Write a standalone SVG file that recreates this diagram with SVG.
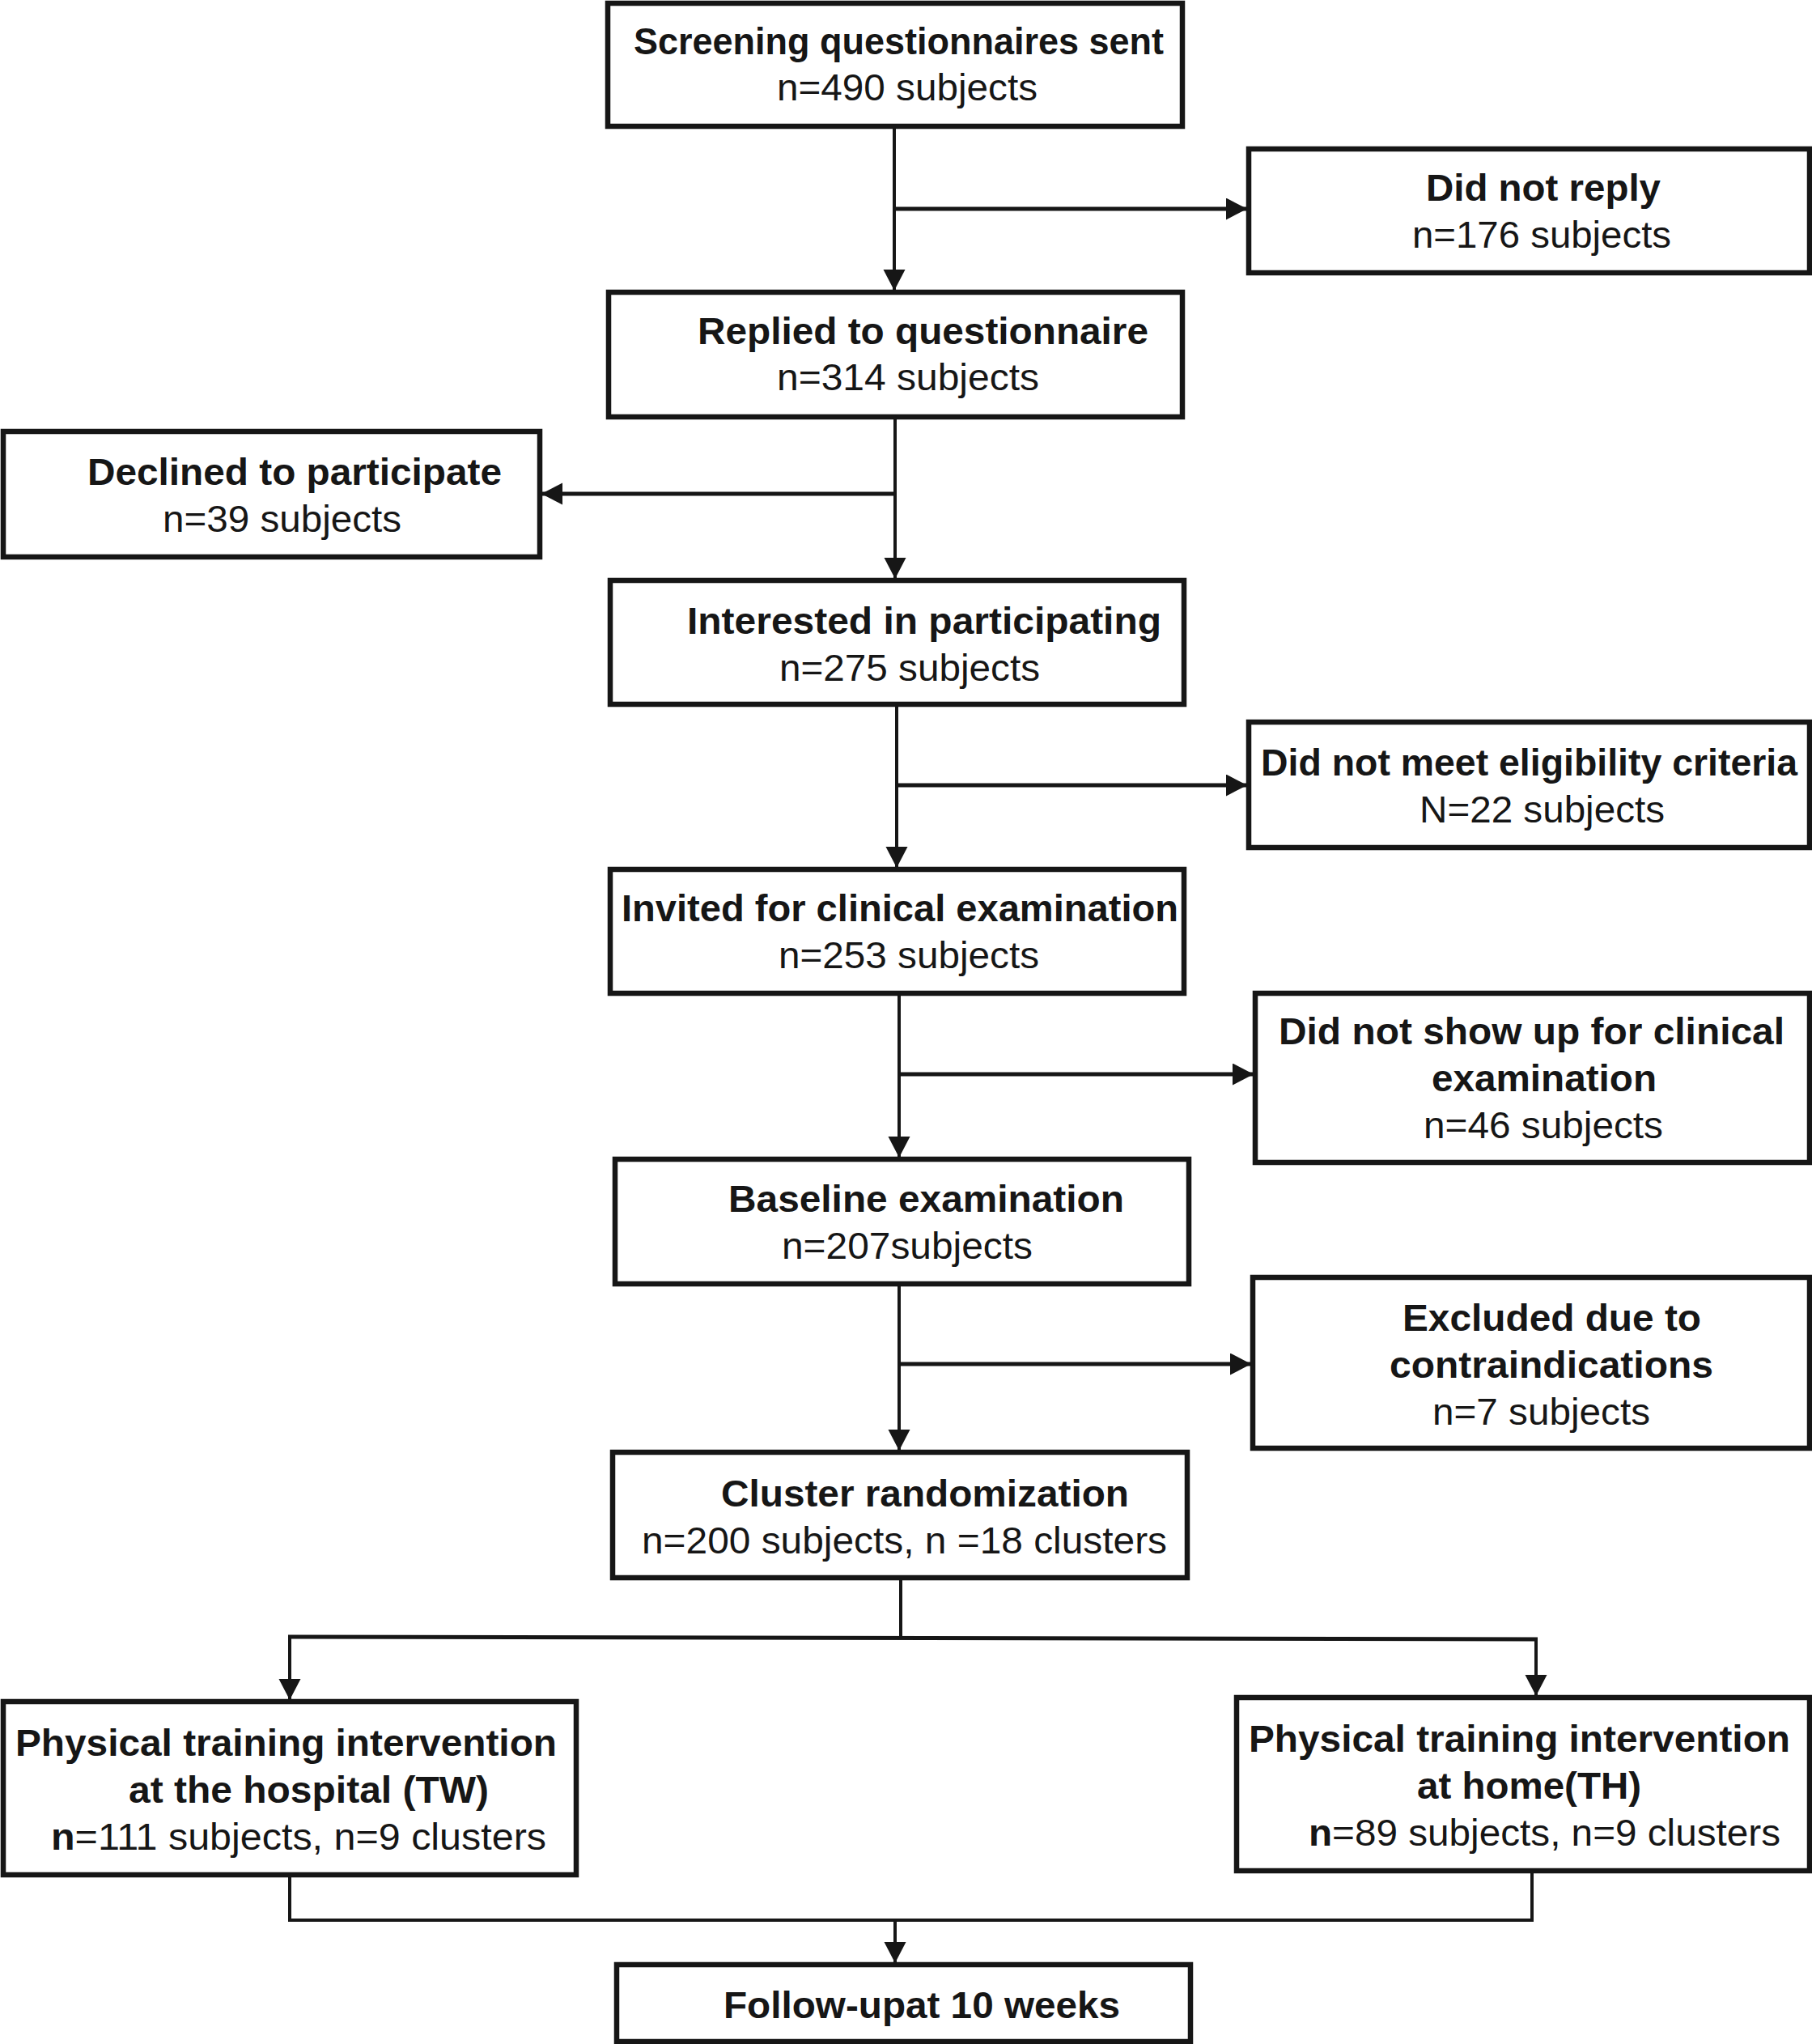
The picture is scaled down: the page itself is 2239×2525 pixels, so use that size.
<svg xmlns="http://www.w3.org/2000/svg" width="2239" height="2525" viewBox="0 0 2239 2525">
<defs>
<style>
.box{fill:#fff;stroke:#161616;stroke-width:6.5}
.t{font-family:"Liberation Sans",Arial,Helvetica,sans-serif;font-size:46px;fill:#161616}
.b{font-weight:bold}
.c{fill:none;stroke:#161616;stroke-width:4}
.h{fill:none;stroke:#161616;stroke-width:5}
</style>
<marker id="ah" markerUnits="userSpaceOnUse" markerWidth="28" markerHeight="28" refX="26" refY="13.5" orient="auto">
<path d="M0,0 L26,13.5 L0,27 z" fill="#161616"/>
</marker>
</defs>
<rect width="2239" height="2525" fill="#fff"/>
<g id="connectors">
<line class="c" x1="1105" y1="156" x2="1105" y2="359" marker-end="url(#ah)"/>
<line class="h" x1="1105" y1="258" x2="1541" y2="258" marker-end="url(#ah)"/>
<line class="c" x1="1106" y1="508" x2="1106" y2="715" marker-end="url(#ah)"/>
<line class="h" x1="1106" y1="610" x2="669" y2="610" marker-end="url(#ah)"/>
<line class="c" x1="1108" y1="870" x2="1108" y2="1072" marker-end="url(#ah)"/>
<line class="h" x1="1108" y1="970" x2="1541" y2="970" marker-end="url(#ah)"/>
<line class="c" x1="1111" y1="1227" x2="1111" y2="1430" marker-end="url(#ah)"/>
<line class="h" x1="1111" y1="1327" x2="1549" y2="1327" marker-end="url(#ah)"/>
<line class="c" x1="1111" y1="1586" x2="1111" y2="1792" marker-end="url(#ah)"/>
<line class="h" x1="1111" y1="1685" x2="1546" y2="1685" marker-end="url(#ah)"/>
<line class="c" x1="1113" y1="1949" x2="1113" y2="2023"/>
<line class="h" x1="356" y1="2022" x2="1900" y2="2025"/>
<line class="c" x1="358" y1="2022" x2="358" y2="2100" marker-end="url(#ah)"/>
<line class="c" x1="1898" y1="2025" x2="1898" y2="2095" marker-end="url(#ah)"/>
<polyline class="c" points="358,2316 358,2372 1893,2372 1893,2311"/>
<line class="c" x1="1106" y1="2372" x2="1106" y2="2425" marker-end="url(#ah)"/>
</g>
<g id="n1">
<rect class="box" x="751" y="4" width="710" height="152"/>
<text class="t b" x="783" y="67" textLength="655" lengthAdjust="spacingAndGlyphs">Screening questionnaires sent</text>
<text class="t" x="960" y="124" textLength="322" lengthAdjust="spacingAndGlyphs">n=490 subjects</text>
</g>
<g id="n2">
<rect class="box" x="1543" y="184" width="693" height="153"/>
<text class="t b" x="1762" y="248" textLength="290" lengthAdjust="spacingAndGlyphs">Did not reply</text>
<text class="t" x="1745" y="306" textLength="320" lengthAdjust="spacingAndGlyphs">n=176 subjects</text>
</g>
<g id="n3">
<rect class="box" x="752" y="361" width="709" height="154"/>
<text class="t b" x="862" y="425" textLength="557" lengthAdjust="spacingAndGlyphs">Replied to questionnaire</text>
<text class="t" x="960" y="482" textLength="324" lengthAdjust="spacingAndGlyphs">n=314 subjects</text>
</g>
<g id="n4">
<rect class="box" x="4" y="533" width="663" height="155"/>
<text class="t b" x="108" y="599" textLength="512" lengthAdjust="spacingAndGlyphs">Declined to participate</text>
<text class="t" x="201" y="657" textLength="295" lengthAdjust="spacingAndGlyphs">n=39 subjects</text>
</g>
<g id="n5">
<rect class="box" x="754" y="717" width="709" height="153"/>
<text class="t b" x="849" y="783" textLength="586" lengthAdjust="spacingAndGlyphs">Interested in participating</text>
<text class="t" x="963" y="841" textLength="322" lengthAdjust="spacingAndGlyphs">n=275 subjects</text>
</g>
<g id="n6">
<rect class="box" x="1543" y="892" width="693" height="155"/>
<text class="t b" x="1558" y="958" textLength="663" lengthAdjust="spacingAndGlyphs">Did not meet eligibility criteria</text>
<text class="t" x="1754" y="1016" textLength="303" lengthAdjust="spacingAndGlyphs">N=22 subjects</text>
</g>
<g id="n7">
<rect class="box" x="754" y="1074" width="709" height="153"/>
<text class="t b" x="768" y="1138" textLength="688" lengthAdjust="spacingAndGlyphs">Invited for clinical examination</text>
<text class="t" x="962" y="1196" textLength="322" lengthAdjust="spacingAndGlyphs">n=253 subjects</text>
</g>
<g id="n8">
<rect class="box" x="1551" y="1227" width="685" height="209"/>
<text class="t b" x="1580" y="1290" textLength="625" lengthAdjust="spacingAndGlyphs">Did not show up for clinical</text>
<text class="t b" x="1769" y="1348" textLength="278" lengthAdjust="spacingAndGlyphs">examination</text>
<text class="t" x="1759" y="1406" textLength="296" lengthAdjust="spacingAndGlyphs">n=46 subjects</text>
</g>
<g id="n9">
<rect class="box" x="760" y="1432" width="709" height="154"/>
<text class="t b" x="900" y="1497" textLength="489" lengthAdjust="spacingAndGlyphs">Baseline examination</text>
<text class="t" x="966" y="1555" textLength="310" lengthAdjust="spacingAndGlyphs">n=207subjects</text>
</g>
<g id="n10">
<rect class="box" x="1548" y="1578" width="688" height="211"/>
<text class="t b" x="1733" y="1644" textLength="369" lengthAdjust="spacingAndGlyphs">Excluded due to</text>
<text class="t b" x="1717" y="1702" textLength="400" lengthAdjust="spacingAndGlyphs">contraindications</text>
<text class="t" x="1770" y="1760" textLength="269" lengthAdjust="spacingAndGlyphs">n=7 subjects</text>
</g>
<g id="n11">
<rect class="box" x="757" y="1794" width="710" height="155"/>
<text class="t b" x="891" y="1861" textLength="504" lengthAdjust="spacingAndGlyphs">Cluster randomization</text>
<text class="t" x="793" y="1919" textLength="649" lengthAdjust="spacingAndGlyphs">n=200 subjects, n =18 clusters</text>
</g>
<g id="n12">
<rect class="box" x="4" y="2102" width="708" height="214"/>
<text class="t b" x="19" y="2169" textLength="669" lengthAdjust="spacingAndGlyphs">Physical training intervention</text>
<text class="t b" x="159" y="2227" textLength="445" lengthAdjust="spacingAndGlyphs">at the hospital (TW)</text>
<text class="t" x="63" y="2285" textLength="612" lengthAdjust="spacingAndGlyphs"><tspan class="b">n</tspan>=111 subjects, n=9 clusters</text>
</g>
<g id="n13">
<rect class="box" x="1528" y="2097" width="708" height="214"/>
<text class="t b" x="1543" y="2164" textLength="669" lengthAdjust="spacingAndGlyphs">Physical training intervention</text>
<text class="t b" x="1751" y="2222" textLength="277" lengthAdjust="spacingAndGlyphs">at home(TH)</text>
<text class="t" x="1617" y="2280" textLength="583" lengthAdjust="spacingAndGlyphs"><tspan class="b">n</tspan>=89 subjects, n=9 clusters</text>
</g>
<g id="n14">
<rect class="box" x="762" y="2427" width="709" height="95"/>
<text class="t b" x="894" y="2493" textLength="490" lengthAdjust="spacingAndGlyphs">Follow-upat 10 weeks</text>
</g>
</svg>
